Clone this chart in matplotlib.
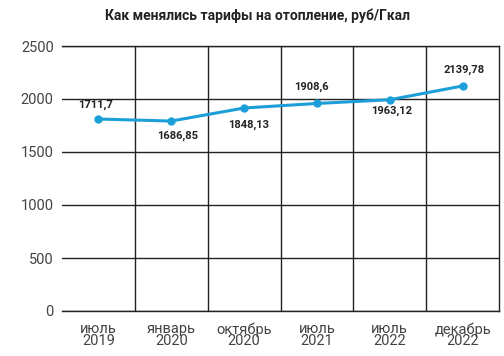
import matplotlib.pyplot as plt
from matplotlib import font_manager
import numpy as np

# Données
periodes = ["июль\n2019", "январь\n2020", "октябрь\n2020", "июль\n2021", "июль\n2022", "декабрь\n2022"]
valeurs = [1811, 1792, 1915, 1958, 1993, 2123]
etiquettes = ["1711,7", "1686,85", "1848,13", "1908,6", "1963,12", "2139,78"]
decalages = [(-3, 14), (6, -15), (5, -17), (-5, 17), (2, -11), (2, 16)]

noms = {f.name for f in font_manager.fontManager.ttflist}
police = "Liberation Sans Narrow" if "Liberation Sans Narrow" in noms else "Roboto"
plt.rcParams['font.family'] = [police, 'DejaVu Sans']

fig = plt.figure(figsize=(5.04, 3.56), dpi=100)
ax = fig.add_axes([62 / 504, 1 - 311 / 356, 437 / 504, 265 / 356])

x = np.arange(len(valeurs))
ax.plot(x, valeurs, color="#1c9fd8", linewidth=2.2, marker="o", markersize=5, zorder=3)

for xi, v, lab, (dx, dy) in zip(x, valeurs, etiquettes, decalages):
    ax.annotate(lab, (xi, v), xytext=(dx, dy), textcoords="offset pixels",
                ha="center", va="center", fontsize=8, fontweight="bold", color="#222222")

ax.set_xlim(-0.5, len(valeurs) - 0.5)
ax.set_ylim(0, 2500)
ax.set_yticks(range(0, 2501, 500))
ax.set_xticks(x)
ax.set_xticklabels(periodes, linespacing=0.8)
ax.set_xticks(np.arange(0.5, len(valeurs) - 0.5), minor=True)
ax.grid(True, axis="y", color="#222222", linewidth=1.0)
ax.grid(True, axis="x", which="minor", color="#222222", linewidth=1.0)
ax.tick_params(axis="both", which="both", length=0, colors="#444444", labelsize=10.5)
ax.tick_params(axis="y", pad=6)
ax.tick_params(axis="x", pad=8)
ax.spines["left"].set_visible(False)
for s in ["top", "right", "bottom"]:
    ax.spines[s].set_color("#222222")
    ax.spines[s].set_linewidth(1.0)

fig.text(0.51, 1 - 16 / 356, "Как менялись тарифы на отопление, руб/Гкал",
         ha="center", va="center", fontsize=10, fontweight="bold", color="#222222")

fig.savefig("out.png", dpi=100)
